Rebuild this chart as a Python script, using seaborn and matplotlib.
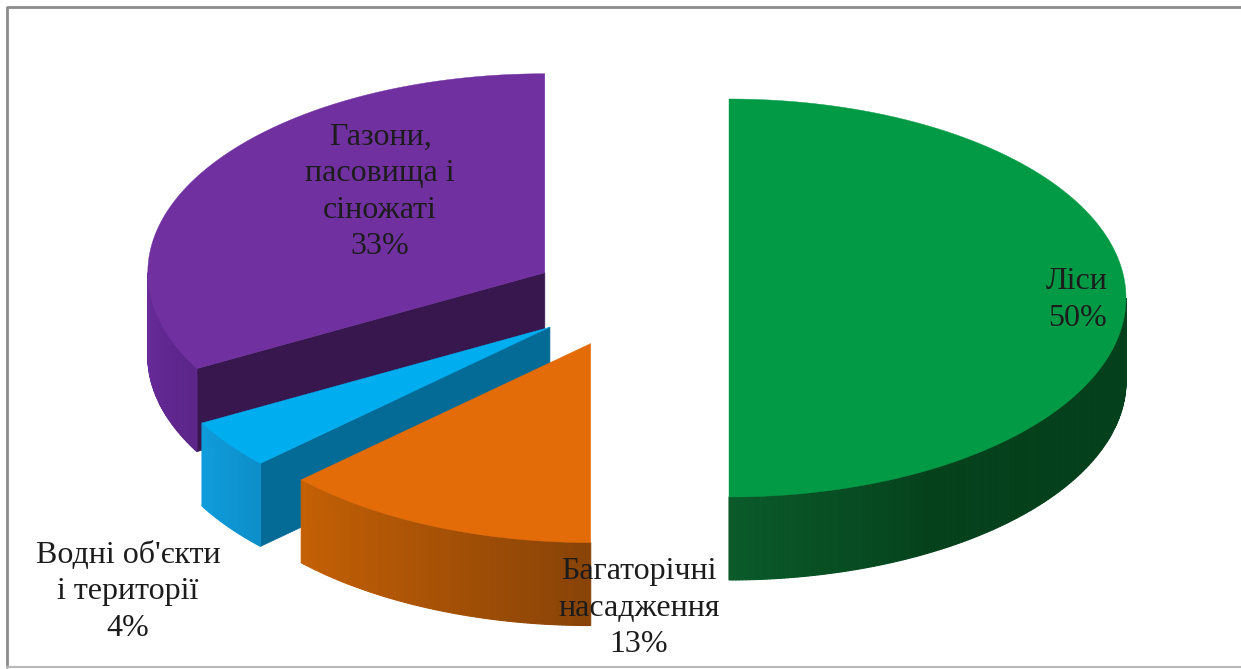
import numpy as np
import seaborn as sns
import matplotlib.pyplot as plt

# Дані діаграми
labels = ["Ліси", "Багаторічні\nнасадження", "Водні об'єкти\nі території", "Газони,\nпасовища і\nсіножаті"]
values = [50, 13, 4, 33]

# Кольори: верх, бокова стінка (градієнт), зріз
top_colors = ["#039a45", "#e36c09", "#00adef", "#7030a0"]
rim_colors = [["#04401b", "#04401b", "#05421c", "#0a5a2a"], ["#884307", "#a85206", "#c46005"],
              ["#0d8fc9", "#0f9cdb"], ["#5b2589", "#692b9b"]]
cut_colors = ["#04401b", "#8a4307", "#046a96", "#38174f"]
label_pos = [(1077, 300), (639, 608), (128, 592), (380, 192)]

# Геометрія псевдо-3D кола, в пікселях
cx, cy = 630, 298
rx, ry = 397, 199
depth = 83
explode = 99

sns.set_theme(style="white")
plt.rcParams["font.family"] = ["Liberation Serif", "DejaVu Serif"]

fig, ax = plt.subplots(figsize=(12.41, 6.69), dpi=100)
ax.set_position([0, 0, 1, 1])
ax.set_xlim(0, 1241)
ax.set_ylim(669, 0)
ax.axis("off")

# Рамка: справа лінії немає
ax.plot([7, 7, 1241], [667, 6.5, 6.5], color="#8c8c8c", lw=2)
ax.plot([7, 1241], [667, 667], color="#b8b8b8", lw=1.5)


def point(a, x0, y0):
    r = np.radians(a)
    return x0 + rx * np.sin(r), y0 - ry * np.cos(r)


# Кути секторів за годинниковою стрілкою від 12 години
edges = np.concatenate([[0], np.cumsum(values)]) * 3.6

# Малюємо ззаду наперед
for i in [3, 2, 1, 0]:
    a1, a2 = edges[i], edges[i + 1]
    mid = np.radians((a1 + a2) / 2)
    x0 = cx + explode * np.sin(mid)
    y0 = cy - explode * ry / rx * np.cos(mid)

    # Зріз, видимий лише якщо дивиться до глядача
    if 180 < a1 < 270:
        xe, ye = point(a1, x0, y0)
        ax.fill([x0, xe, xe, x0], [y0, ye, ye + depth, y0 + depth],
                color=cut_colors[i], lw=0.5, zorder=i * -3 + 10)

    # Бокова стінка дрібними смужками
    lo, hi = max(a1, 90), min(a2, 270)
    if hi > lo:
        steps = max(int(hi - lo) * 2, 2)
        pal = sns.blend_palette(rim_colors[i], steps)
        ang = np.linspace(lo, hi, steps + 1)
        for k in range(steps):
            xa, ya = point(ang[k], x0, y0)
            xb, yb = point(ang[k + 1], x0, y0)
            ax.fill([xa, xb, xb, xa], [ya, yb, yb + depth, ya + depth],
                    color=pal[k], lw=0.8, zorder=i * -3 + 10)

    # Верхня грань
    ang = np.linspace(a1, a2, 200)
    xs, ys = point(ang, x0, y0)
    ax.fill(np.r_[x0, xs], np.r_[y0, ys], color=top_colors[i], lw=0.3, zorder=i * -3 + 11)

# Підписи
for lab, val, (x, y) in zip(labels, values, label_pos):
    ax.text(x, y, f"{lab}\n{val}%", ha="center", va="center", fontsize=23,
            color="#1c1c1c", linespacing=1.33, zorder=20)

fig.savefig("out.png", dpi=100, facecolor="white")
